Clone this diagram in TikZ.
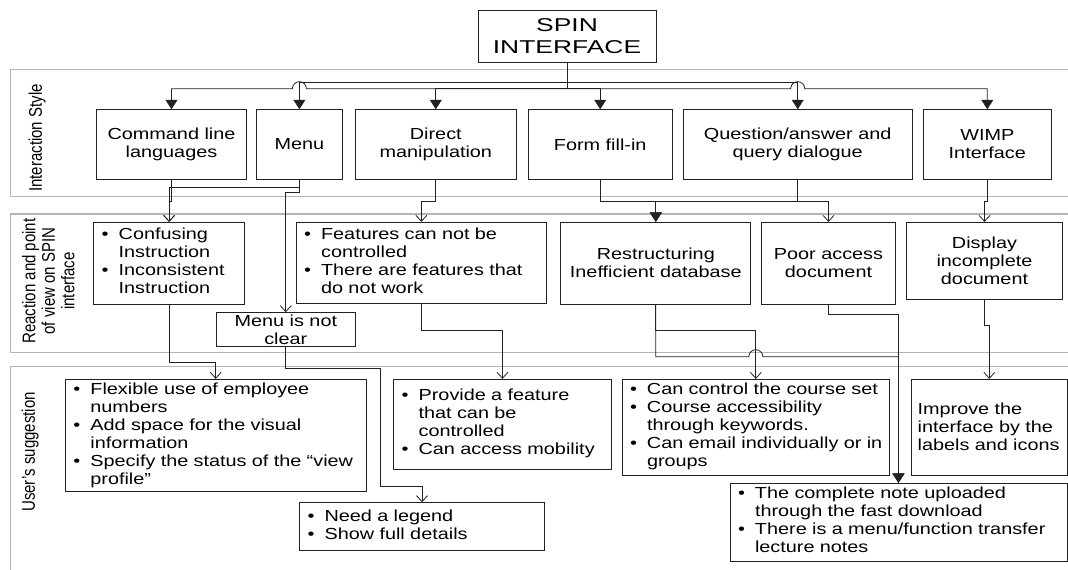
\documentclass[tikz,border=0pt]{standalone}
\usepackage{fontspec}
\setmainfont[FakeStretch=1.24]{Liberation Sans}
\newfontfamily\lanefont{Liberation Sans}
\newfontfamily\spinfont[FakeStretch=1.42]{Liberation Sans}
\usetikzlibrary{arrows.meta}
\definecolor{ink}{HTML}{222222}
\definecolor{lanegray}{HTML}{B5B5B5}
\newcommand{\bul}{\makebox[17pt][l]{\textbullet}}
\newcommand{\blist}[1]{\begin{tabular}{@{}l@{}l@{}}#1\end{tabular}}
\newcommand{\lanetext}[1]{\scalebox{1}[1.22]{\begin{tabular}{@{}c@{}}#1\end{tabular}}}
\tikzset{>=Latex,
  every node/.style={font=\fontsize{16}{18}\selectfont},
  box/.style={draw=ink,line width=.9pt,fill=white,inner sep=0pt,align=center},
  listbox/.style={draw=ink,line width=.9pt,fill=white,inner xsep=8pt,inner ysep=0pt,
    align=left,text width=#1},
  lane/.style={draw=lanegray,line width=1.4pt},
  lanelabel/.style={rotate=90,inner sep=0pt,font=\lanefont\fontsize{15}{16}\selectfont},
  flow/.style={draw=ink,line width=.8pt},
  solidtip/.style={-{Triangle[length=9.5pt,width=12pt]}},
  opentip/.style={-{Straight Barb[length=6pt,width=11pt]}}}

\begin{document}
\begin{tikzpicture}[x=1pt,y=-1pt]
\path[use as bounding box] (0,0) rectangle (1068,570);
% swim lanes
\draw[lane] (1090,69.3) -- (10.3,69.3) -- (10.3,196.7) -- (1090,196.7);
\draw[lane] (1090,214) -- (10.3,214) -- (10.3,352.7) -- (1090,352.7);
\draw[lane] (1090,366.7) -- (10.3,366.7) -- (10.3,580);
\node[lanelabel] (l1) at (38,138) {\lanetext{Interaction Style}};
\node[lanelabel] (l2) at (51,281) {\lanetext{Reaction and point\\of view on SPIN\\interface}};
\node[lanelabel] (l3) at (31,452) {\lanetext{User’s suggestion}};

\node[box,minimum width=178pt,minimum height=52pt,
  font=\spinfont\fontsize{18.6}{21.7}\selectfont] (spin) at (567,36.2) {SPIN\\INTERFACE};

% interaction styles
\foreach \n/\x/\w/\t in {cmd/171.5/150.2/{Command line\\languages},menu/299.4/86.4/{Menu},
  direct/435.8/161.5/{Direct\\manipulation},form/600.2/144.5/{Form fill-in},
  qa/797.7/228.6/{Question/answer and\\query dialogue},wimp/987.3/128.7/{WIMP\\Interface}}
  \node[box,minimum width=\w pt,minimum height=69.6pt] (\n) at (\x,144.5) {\t};

% reactions
\node[listbox=134.8pt,minimum height=81.7pt] (confusing) at (169.1,263.2)
  {\blist{\bul&Confusing\\&Instruction\\\bul&Inconsistent\\&Instruction}};
\node[listbox=234.6pt,minimum height=81pt] (features) at (421.4,262.8)
  {\blist{\bul&Features can not be\\&controlled\\\bul&There are features that\\&do not work}};
\node[box,minimum width=139.1pt,minimum height=34pt] (menuclear) at (285.8,329.7) {Menu is not\\clear};
\node[box,minimum width=189.8pt,minimum height=81.7pt] (restruct) at (655.8,263.2) {Restructuring\\Inefficient database};
\node[box,minimum width=133.9pt,minimum height=81.7pt] (poor) at (828.5,263.2) {Poor access\\document};
\node[box,minimum width=156.2pt,minimum height=76.7pt] (display) at (984.5,260.7) {Display\\incomplete\\document};

% suggestions
\node[listbox=284.6pt,minimum height=112.4pt] (flexible) at (215.7,435.5)
  {\blist{\bul&Flexible use of employee\\&numbers\\\bul&Add space for the visual\\&information\\
  \bul&Specify the status of the “view\\&profile”}};
\node[listbox=201.7pt,minimum height=90pt] (provide) at (502.5,424.3)
  {\blist{\bul&Provide a feature\\&that can be\\&controlled\\\bul&Can access mobility}};
\node[listbox=251.6pt,minimum height=95.7pt] (canctrl) at (755.8,427.2)
  {\blist{\bul&Can control the course set\\\bul&Course accessibility\\&through keywords.\\
  \bul&Can email individually or in\\&groups}};
\node[box,align=left,inner xsep=6pt,text width=143.4pt,minimum height=95.7pt] (improve) at (989.3,427.2)
  {Improve the\\interface by the\\labels and icons};
\node[listbox=228.8pt,minimum height=48pt] (legend) at (422,526.7)
  {\blist{\bul&Need a legend\\\bul&Show full details}};
\node[listbox=321pt,minimum height=77.7pt] (complete) at (898.5,522.2)
  {\blist{\bul&The complete note uploaded\\&through the fast download\\
  \bul&There is a menu/function transfer\\&lecture notes}};

% spin -> styles
\coordinate (busL) at ([yshift=-26pt]spin.south);
\coordinate (busU) at ([yshift=-19.5pt]spin.south);
\draw[flow] (spin.south) -- (busL);
\draw[flow,solidtip] (busU) -| (menu.north);
\draw[flow,solidtip] (busU) -| (qa.north);
\draw[flow,solidtip] (busL) -- ([xshift=7pt]menu.north |- busL)
  arc[start angle=0,end angle=180,radius=7pt] -| (cmd.north);
\draw[flow,solidtip] (busL) -| (direct.north);
\draw[flow,solidtip] (busL) -| (form.north);
\draw[flow,solidtip] (busL) -- ([xshift=-7pt]qa.north |- busL)
  arc[start angle=180,end angle=0,radius=7pt] -| (wimp.north);

% styles -> reactions
\coordinate (r1) at (0,201.7);
\draw[flow,opentip] (cmd.south) -- (cmd.south |- r1) -| (confusing.north);
\draw[flow,opentip] (menu.south) -- ([yshift=-7.4pt]menu.south) -| (confusing.north);
\draw[flow,opentip] (menu.south) -- ([yshift=-12.4pt]menu.south) -| (menuclear.north);
\draw[flow,opentip] (direct.south) -- (direct.south |- r1) -| (features.north);
\draw[flow,solidtip] (form.south) -- (form.south |- r1) -| (restruct.north);
\draw[flow,solidtip] (qa.south) -- (qa.south |- r1) -| (restruct.north);
\draw[flow,opentip] (qa.south) -- (qa.south |- r1) -| (poor.north);
\draw[flow,opentip] (wimp.south) -- (wimp.south |- r1) -| (display.north);

% reactions -> suggestions
\coordinate (r2) at (0,330);
\coordinate (r3) at (0,356.7);
\draw[flow,opentip] (confusing.south) -- ([yshift=-58.3pt]confusing.south) -| (flexible.north);
\draw[flow,opentip] (features.south) -- (features.south |- r2) -| (provide.north);
\coordinate (mbend) at (380.5,368.3);
\draw[flow,opentip] (menuclear.south) |- (mbend) -- (mbend |- 0,486.7) -| (legend.north);
\draw[flow,opentip] (restruct.south) -- (restruct.south |- r2) -| (canctrl.north);
\draw[flow,solidtip] (restruct.south) -- (restruct.south |- r3) -- ([xshift=-7pt]canctrl.north |- r3)
  arc[start angle=180,end angle=0,radius=7pt] -| (complete.north);
\draw[flow,solidtip] (poor.south) -- ([yshift=-10pt]poor.south) -| (complete.north);
\draw[flow,opentip] (display.south) -- ([yshift=-26pt]display.south) -| (improve.north);
\end{tikzpicture}
\end{document}
